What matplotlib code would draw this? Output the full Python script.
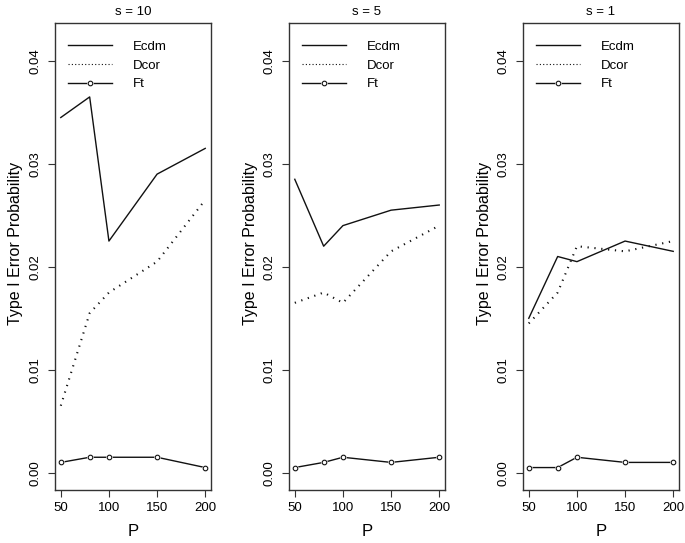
import matplotlib
matplotlib.use("Agg")
import matplotlib.pyplot as plt
from matplotlib.lines import Line2D
from matplotlib.ticker import FormatStrFormatter

plt.rcParams['font.family'] = ['Liberation Sans', 'DejaVu Sans']

P = [50, 80, 100, 150, 200]
titles = ["s = 10", "s = 5", "s = 1"]

ecdm_s10 = [0.0345, 0.0365, 0.0225, 0.029, 0.0315]
dcor_s10 = [0.0065, 0.0155, 0.0175, 0.0205, 0.0265]
ft_s10 = [0.001, 0.0015, 0.0015, 0.0015, 0.0005]

ecdm_s5 = [0.0285, 0.022, 0.024, 0.0255, 0.026]
dcor_s5 = [0.0165, 0.0175, 0.0165, 0.0215, 0.024]
ft_s5 = [0.0005, 0.001, 0.0015, 0.001, 0.0015]

ecdm_s1 = [0.015, 0.021, 0.0205, 0.0225, 0.0215]
dcor_s1 = [0.0145, 0.0175, 0.022, 0.0215, 0.0225]
ft_s1 = [0.0005, 0.0005, 0.0015, 0.001, 0.001]

yticks = [0.00, 0.01, 0.02, 0.03, 0.04]
xticks = [50, 100, 150, 200]
labels = ["Ecdm", "Dcor", "Ft"]

panels = [
    (ecdm_s10, dcor_s10, ft_s10),
    (ecdm_s5, dcor_s5, ft_s5),
    (ecdm_s1, dcor_s1, ft_s1),
]

fig = plt.figure(figsize=(6.85, 5.43), dpi=100)
lefts = [55 / 685, 289 / 685, 523 / 685]
width = 156 / 685
bottom = 1 - 490 / 543
height = (490 - 23) / 543
ink = '#111111'

for i, (ecdm, dcor, ft) in enumerate(panels):
    ax = fig.add_axes([lefts[i], bottom, width, height])
    ax.plot(P, ecdm, color=ink, lw=1.0, ls='-')
    ax.plot(P, dcor, color=ink, lw=1.5, ls=(0, (0.6, 2.7)),
            dash_capstyle='butt')
    ax.plot(P, ft, color=ink, lw=1.0, ls='-')
    ax.plot(P, ft, lw=0, marker='o', ms=4.8, mfc='white', mec='white',
            mew=0)
    ax.plot(P, ft, lw=0, marker='o', ms=3.3, mfc='white', mec=ink,
            mew=0.8)
    ax.set_xlim(44, 206)
    ax.set_ylim(-0.00168, 0.04368)
    ax.set_xticks(xticks)
    ax.set_yticks(yticks)
    ax.yaxis.set_major_formatter(FormatStrFormatter('%.2f'))
    ax.tick_params(axis='both', direction='out', length=5, width=0.8,
                   labelsize=9.5, color='#333333')
    ax.tick_params(axis='y', labelrotation=90, pad=4.5)
    ax.tick_params(axis='x', pad=3.5)
    for lab in ax.get_yticklabels():
        lab.set_verticalalignment('center')
    for sp in ax.spines.values():
        sp.set_color('#333333')
        sp.set_linewidth(1.0)
    ax.set_title(titles[i], fontsize=9.5, pad=5.5)
    ax.set_xlabel('P', fontsize=12, labelpad=7.5)
    ax.set_ylabel('Type I Error Probability', fontsize=11.5)
    ax.yaxis.set_label_coords(-0.25, 0.529)
    ax.yaxis.label.set_verticalalignment('center')

    h1 = Line2D([], [], color=ink, lw=1.0)
    h2 = Line2D([], [], color=ink, lw=0.8, ls=(0, (1, 2)))
    h3a = Line2D([], [], color=ink, lw=1.0)
    h3b = Line2D([], [], lw=0, marker='o', ms=4.8, mfc='white', mec='white',
                 mew=0)
    h3c = Line2D([], [], lw=0, marker='o', ms=3.3, mfc='white', mec=ink,
                 mew=0.8)
    ax.legend([h1, h2, (h3a, h3b, h3c)], labels, loc='upper left',
              bbox_to_anchor=(0.005, 0.988), frameon=False, fontsize=9.5,
              handlelength=3.33, handletextpad=1.6, labelspacing=0.5,
              borderaxespad=0.5, borderpad=0.4)

fig.savefig('out.png', dpi=100)
